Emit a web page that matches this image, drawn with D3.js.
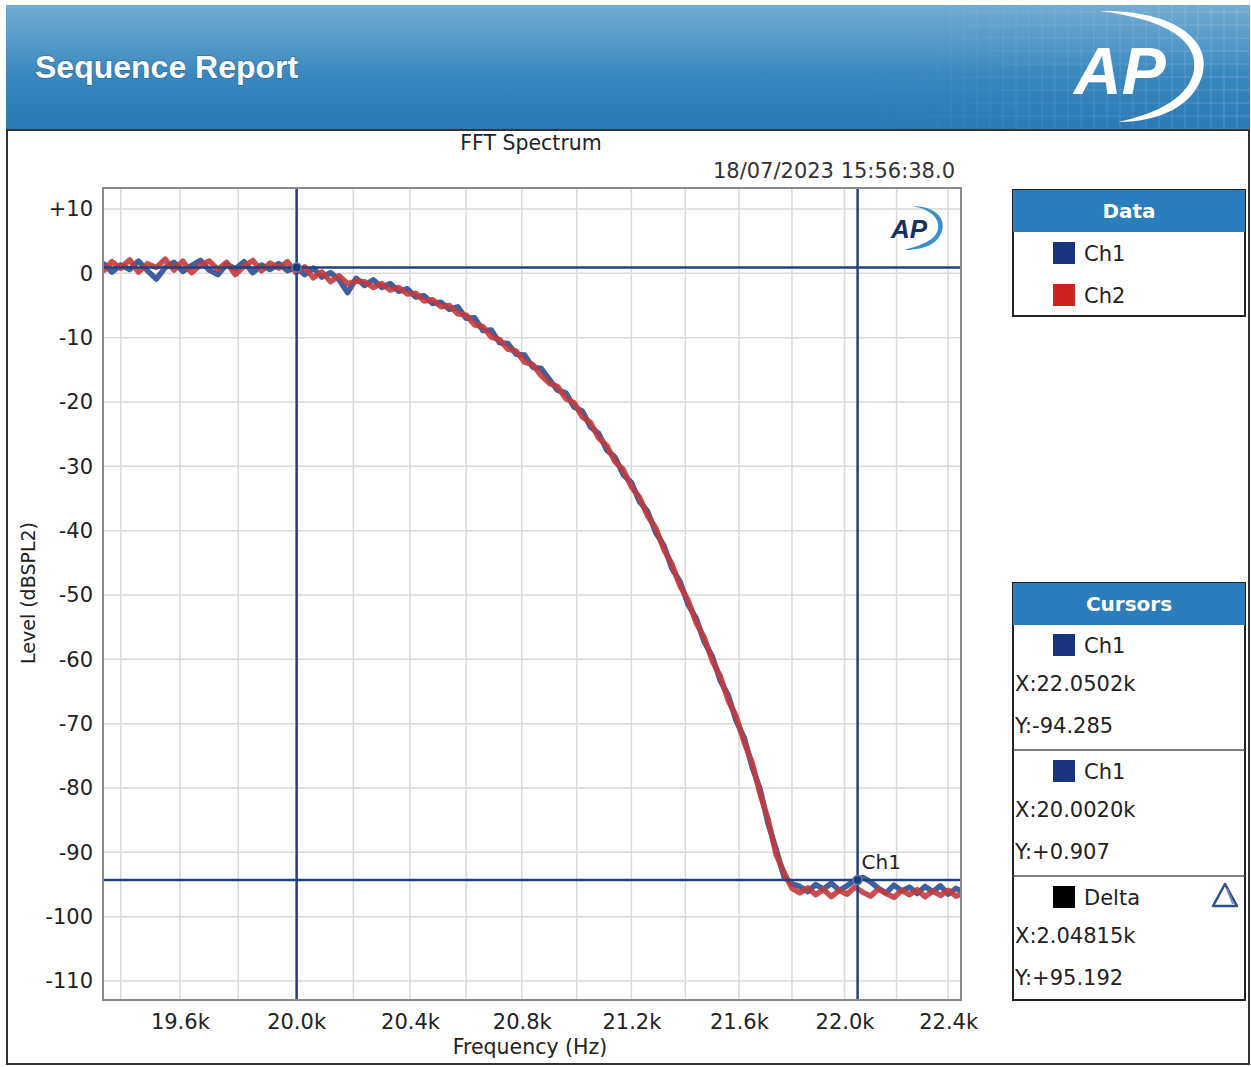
<!DOCTYPE html>
<meta charset="utf-8">
<html lang="en">
<head>
<script src="https://d3js.org/d3.v7.min.js"></script>
<style>
body { margin: 0; background: #ffffff; }
text { font-family: "DejaVu Sans", "Noto Sans", sans-serif; }
</style>
</head>
<body>
<div id="chart"></div>
<script>
// frequency bins (Hz)
var freqs = [19340, 19370, 19400, 19430, 19460, 19490, 19520, 19550, 19580, 19610,
  19640, 19670, 19700, 19730, 19760, 19790, 19820, 19850, 19880, 19910,
  19940, 19970, 20000, 20030, 20060, 20090, 20120, 20150, 20180, 20210,
  20240, 20270, 20300, 20330, 20360, 20390, 20420, 20450, 20480, 20510,
  20540, 20570, 20600, 20630, 20660, 20690, 20720, 20750, 20780, 20810,
  20840, 20870, 20900, 20930, 20960, 20990, 21020, 21050, 21080, 21110,
  21140, 21170, 21200, 21230, 21260, 21290, 21320, 21350, 21380, 21410,
  21440, 21470, 21500, 21530, 21560, 21590, 21620, 21650, 21680, 21710,
  21740, 21770, 21800, 21830, 21860, 21890, 21920, 21950, 21980, 22010,
  22040, 22070, 22100, 22130, 22160, 22190, 22220, 22250, 22280, 22310,
  22340, 22370, 22400, 22430, 22460];

// levels (dBSPL2)
var ch1 = [1.6, 0.2, 1.3, 0.6, 1.9, 0.4, -0.9, 0.9, 1.7, 0.3,
  1.2, 2.0, 0.5, -0.2, 1.4, 0.7, 1.8, 0.1, 1.3, 0.6,
  1.5, 0.4, 0.9, -0.2, 0.8, -0.6, 0.1, -1.0, -3.0, -0.8,
  -1.9, -1.0, -2.2, -1.6, -2.8, -2.4, -3.7, -3.5, -4.7, -4.5,
  -5.6, -5.2, -7.0, -6.9, -8.9, -8.8, -10.8, -10.9, -12.6, -12.7,
  -14.6, -14.8, -16.5, -18.2, -18.6, -20.8, -21.4, -23.9, -24.9, -27.5,
  -28.6, -31.3, -32.5, -35.5, -37.0, -40.3, -42.3, -45.9, -47.9, -51.5,
  -53.6, -57.3, -59.5, -63.3, -65.6, -69.6, -72.2, -76.8, -80.2, -85.6,
  -89.5, -93.8, -94.9, -95.3, -96.1, -95.0, -95.7, -94.8, -95.9, -95.2,
  -94.3, -93.9, -94.6, -95.6, -96.3, -95.1, -96.0, -95.4, -96.4, -95.3,
  -96.1, -95.2, -96.5, -95.6, -96.2];

var ch2 = [0.3, 1.8, 0.8, 2.1, 0.2, 1.5, 0.9, 2.2, 0.5, 1.9,
  0.1, 1.3, 1.9, 0.6, 1.7, -0.2, 1.1, 2.0, 0.4, 1.6,
  0.8, 1.8, 0.1, 1.0, -0.7, 0.2, -1.3, -0.4, -1.6, -1.2,
  -1.3, -2.2, -1.6, -2.6, -2.2, -3.2, -3.1, -4.3, -4.1, -5.2,
  -5.0, -6.3, -6.5, -8.0, -8.3, -9.9, -10.3, -11.8, -12.1, -13.8,
  -14.2, -15.9, -17.1, -17.6, -19.5, -20.1, -22.3, -23.2, -25.6, -26.8,
  -29.3, -30.5, -33.2, -34.8, -37.7, -39.6, -42.9, -45.2, -48.6, -50.8,
  -54.3, -56.6, -60.2, -62.6, -66.4, -68.9, -72.9, -76.1, -81.0, -84.9,
  -90.3, -93.1, -95.6, -96.3, -95.5, -96.6, -95.8, -96.9, -95.9, -96.5,
  -95.4, -96.2, -96.8, -95.7, -96.4, -97.0, -95.9, -96.6, -95.8, -96.9,
  -96.0, -96.7, -95.9, -96.8, -96.3];

var xGrid = [19400, 19600, 19800, 20000, 20200, 20400, 20600, 20800, 21000, 21200,
  21400, 21600, 21800, 22000, 22200, 22400];
var xLabels = [19600, 20000, 20400, 20800, 21200, 21600, 22000, 22400];
var yTicks = [10, 0, -10, -20, -30, -40, -50, -60, -70, -80, -90, -100, -110];

// cursors
var cursorA = { name: "Ch1", x: 22050.2, y: -94.285 };
var cursorB = { name: "Ch1", x: 20002.0, y: 0.907 };
var delta = { x: "2.04815k", y: "+95.192" };

var width = 1251, height = 1067;
var svg = d3.select("#chart").append("svg")
  .attr("width", width)
  .attr("height", height);

var defs = svg.append("defs");
var hg = defs.append("linearGradient").attr("id", "hdr")
  .attr("x1", 0).attr("y1", 0).attr("x2", 0).attr("y2", 1);
hg.append("stop").attr("offset", "0%").attr("stop-color", "#72acd2");
hg.append("stop").attr("offset", "55%").attr("stop-color", "#3a88bf");
hg.append("stop").attr("offset", "100%").attr("stop-color", "#2a79b5");

var gridFade = defs.append("linearGradient").attr("id", "gfade")
  .attr("x1", 0).attr("y1", 0).attr("x2", 1).attr("y2", 0);
gridFade.append("stop").attr("offset", "0%").attr("stop-color", "#fff").attr("stop-opacity", 0);
gridFade.append("stop").attr("offset", "100%").attr("stop-color", "#fff").attr("stop-opacity", 1);
var mask = defs.append("mask").attr("id", "gmask");
mask.append("rect").attr("x", 850).attr("y", 5).attr("width", 400).attr("height", 125).attr("fill", "url(#gfade)");

defs.append("clipPath").attr("id", "plotclip")
  .append("rect").attr("x", 103).attr("y", 188).attr("width", 858).attr("height", 812);

// header band
svg.append("rect").attr("x", 6).attr("y", 5).attr("width", 1244).attr("height", 126)
  .attr("fill", "url(#hdr)");
var hgrid = svg.append("g").attr("mask", "url(#gmask)")
  .attr("stroke", "#ffffff").attr("stroke-opacity", 0.18).attr("stroke-width", 1);
for (var gx = 860; gx < 1250; gx += 13) {
  hgrid.append("line").attr("x1", gx).attr("x2", gx).attr("y1", 5).attr("y2", 130);
}
for (var gy = 12; gy < 130; gy += 13) {
  hgrid.append("line").attr("x1", 850).attr("x2", 1250).attr("y1", gy).attr("y2", gy);
}
svg.append("text").attr("x", 35).attr("y", 78)
  .style("font-family", "'Liberation Sans', Arial, sans-serif")
  .style("font-weight", "bold").style("font-size", "32px")
  .attr("fill", "#ffffff")
  .style("paint-order", "stroke").attr("stroke", "rgba(20,60,100,0.25)").attr("stroke-width", 2)
  .text("Sequence Report");
// big AP logo
svg.append("path")
  .attr("d", "M1100,11 C1175,10 1210,40 1203,72 C1196,105 1160,122 1118,122 C1160,113 1190,96 1194,70 C1198,42 1170,20 1100,11 Z")
  .attr("fill", "#ffffff");
svg.append("text").attr("x", 1074).attr("y", 94)
  .style("font-family", "'Liberation Sans', Arial, sans-serif")
  .style("font-weight", "bold").style("font-style", "italic").style("font-size", "66px")
  .attr("fill", "#ffffff").text("AP");

// report frame
svg.append("rect").attr("x", 7).attr("y", 130).attr("width", 1242).attr("height", 934)
  .attr("fill", "none").attr("stroke", "#333333").attr("stroke-width", 2);

var x = d3.scaleLog().domain([19340, 22450]).range([103, 961]);
var y = d3.scaleLinear().domain([-112.95, 13.26]).range([1000, 188]);

// titles
svg.append("text").attr("x", 531).attr("y", 150).attr("text-anchor", "middle")
  .style("font-size", "20.5px").attr("fill", "#222").text("FFT Spectrum");
svg.append("text").attr("x", 955).attr("y", 178).attr("text-anchor", "end")
  .style("font-size", "21px").attr("fill", "#333").text("18/07/2023 15:56:38.0");

// grid
var grid = svg.append("g").attr("stroke", "#d9d9d9").attr("stroke-width", 1.5);
grid.selectAll(".vx").data(xGrid).enter().append("line")
  .attr("x1", function (d) { return x(d); }).attr("x2", function (d) { return x(d); })
  .attr("y1", 188).attr("y2", 1000);
grid.selectAll(".hy").data(yTicks).enter().append("line")
  .attr("y1", function (d) { return y(d); }).attr("y2", function (d) { return y(d); })
  .attr("x1", 103).attr("x2", 961);

// axes (labels only)
var xAxis = svg.append("g").attr("transform", "translate(0,1000)")
  .call(d3.axisBottom(x).tickValues(xLabels).tickSize(0).tickPadding(14)
    .tickFormat(function (d) { return (d / 1000).toFixed(1) + "k"; }));
xAxis.select(".domain").remove();
xAxis.selectAll("text").style("font-size", "21px").style("font-family", "'DejaVu Sans', sans-serif").attr("fill", "#222");

var yAxis = svg.append("g").attr("transform", "translate(103,0)")
  .call(d3.axisLeft(y).tickValues(yTicks).tickSize(0).tickPadding(10)
    .tickFormat(function (d) { return d > 0 ? "+" + d : "" + d; }));
yAxis.select(".domain").remove();
yAxis.selectAll("text").style("font-size", "21px").style("font-family", "'DejaVu Sans', sans-serif").attr("fill", "#222");

svg.append("text").attr("x", 530).attr("y", 1054).attr("text-anchor", "middle")
  .style("font-size", "20.5px").attr("fill", "#222").text("Frequency (Hz)");
svg.append("text").attr("transform", "translate(35,593) rotate(-90)").attr("text-anchor", "middle")
  .style("font-size", "19px").attr("fill", "#222").text("Level (dBSPL2)");

// traces
var line = d3.line()
  .x(function (d) { return x(d[0]); })
  .y(function (d) { return y(d[1]); });
var plot = svg.append("g").attr("clip-path", "url(#plotclip)");
plot.append("path").datum(d3.zip(freqs, ch1)).attr("d", line)
  .attr("fill", "none").attr("stroke", "#3f5f9f").attr("stroke-width", 5.5)
  .attr("stroke-linejoin", "round");
plot.append("path").datum(d3.zip(freqs, ch2)).attr("d", line)
  .attr("fill", "none").attr("stroke", "#c43a3c").attr("stroke-width", 5.5)
  .attr("stroke-opacity", 0.9).attr("stroke-linejoin", "round");

// cursor lines
var cur = svg.append("g").attr("stroke", "#23417f").attr("stroke-width", 2.5);
[cursorA, cursorB].forEach(function (c) {
  cur.append("line").attr("x1", x(c.x)).attr("x2", x(c.x)).attr("y1", 188).attr("y2", 1000);
  cur.append("line").attr("x1", 103).attr("x2", 961).attr("y1", y(c.y)).attr("y2", y(c.y));
});
[cursorA, cursorB].forEach(function (c) {
  svg.append("circle").attr("cx", x(c.x)).attr("cy", y(c.y)).attr("r", 4.5)
    .attr("fill", "#1d3a78").attr("stroke", "#5a7ab8").attr("stroke-width", 1.5);
});
svg.append("text").attr("x", x(cursorA.x) + 4).attr("y", y(cursorA.y) - 11)
  .style("font-size", "20px").attr("fill", "#222").text(cursorA.name);

// plot frame
svg.append("rect").attr("x", 103).attr("y", 188).attr("width", 858).attr("height", 812)
  .attr("fill", "none").attr("stroke", "#8a8a8a").attr("stroke-width", 2);

// small AP logo
svg.append("path")
  .attr("d", "M912,206 C935,206 946,218 942,231 C938,244 924,250 904,250 C922,245 936,240 938,229 C940,218 930,209 912,206 Z")
  .attr("fill", "#3d8fcc");
svg.append("text").attr("x", 891).attr("y", 238)
  .style("font-family", "'Liberation Sans', Arial, sans-serif")
  .style("font-weight", "bold").style("font-style", "italic").style("font-size", "26px")
  .attr("fill", "#16315f").text("AP");

// legend boxes
function boxHeader(x0, y0, w, title) {
  svg.append("rect").attr("x", x0).attr("y", y0).attr("width", w).attr("height", 42).attr("fill", "#2c7dbb");
  svg.append("text").attr("x", x0 + w / 2).attr("y", y0 + 28).attr("text-anchor", "middle")
    .style("font-size", "20px").style("font-weight", "bold").attr("fill", "#ffffff").text(title);
}
function swatchItem(sx, sy, color, label) {
  svg.append("rect").attr("x", sx).attr("y", sy - 11).attr("width", 22).attr("height", 22).attr("fill", color);
  svg.append("text").attr("x", sx + 31).attr("y", sy + 8).style("font-size", "21px").attr("fill", "#222").text(label);
}

// Data legend
svg.append("rect").attr("x", 1013).attr("y", 190).attr("width", 232).attr("height", 126)
  .attr("fill", "#fff").attr("stroke", "#222").attr("stroke-width", 2);
boxHeader(1013, 190, 232, "Data");
swatchItem(1053, 253, "#1a3580", "Ch1");
swatchItem(1053, 295, "#cc2222", "Ch2");

// Cursors legend
svg.append("rect").attr("x", 1013).attr("y", 583).attr("width", 232).attr("height", 417)
  .attr("fill", "#fff").attr("stroke", "#222").attr("stroke-width", 2);
boxHeader(1013, 583, 232, "Cursors");
var rows = [
  { color: "#1a3580", name: cursorA.name, xs: "X:" + (cursorA.x / 1000).toFixed(4) + "k", ys: "Y:" + cursorA.y.toFixed(3) },
  { color: "#1a3580", name: cursorB.name, xs: "X:" + (cursorB.x / 1000).toFixed(4) + "k", ys: "Y:+" + cursorB.y.toFixed(3) },
  { color: "#000000", name: "Delta", xs: "X:" + delta.x, ys: "Y:" + delta.y }
];
rows.forEach(function (r, i) {
  var y0 = 645 + i * 126;
  swatchItem(1053, y0, r.color, r.name);
  svg.append("text").attr("x", 1015).attr("y", y0 + 46).style("font-size", "21px").attr("fill", "#222").text(r.xs);
  svg.append("text").attr("x", 1015).attr("y", y0 + 88).style("font-size", "21px").attr("fill", "#222").text(r.ys);
  if (i < 2) {
    svg.append("line").attr("x1", 1013).attr("x2", 1245).attr("y1", y0 + 105).attr("y2", y0 + 105)
      .attr("stroke", "#555").attr("stroke-width", 1.5);
  }
});
// delta triangle icon
svg.append("path").attr("d", "M1225,884 L1213,906 L1237,906 Z")
  .attr("fill", "none").attr("stroke", "#2b4f8a").attr("stroke-width", 2.5).attr("stroke-linejoin", "round");
svg.append("line").attr("x1", 1227).attr("y1", 889).attr("x2", 1233).attr("y2", 904)
  .attr("stroke", "#6f8fc0").attr("stroke-width", 2);
</script>
</body>
</html>
